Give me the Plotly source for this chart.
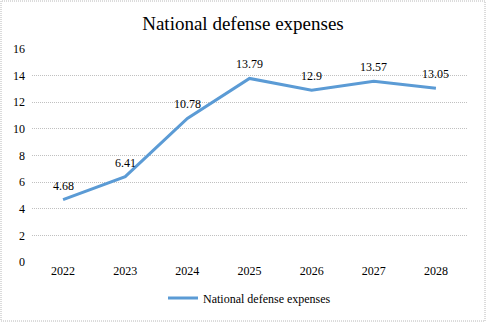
import plotly.graph_objects as go

years = ["2022", "2023", "2024", "2025", "2026", "2027", "2028"]
values = [4.68, 6.41, 10.78, 13.79, 12.9, 13.57, 13.05]
labels = ["4.68", "6.41", "10.78", "13.79", "12.9", "13.57", "13.05"]
series_name = "National defense expenses"

W, H = 486, 322
ml, mr, mt, mb = 32, 19, 49, 60

fig = go.Figure()
fig.add_trace(go.Scatter(
    x=years, y=values, mode="lines", name=series_name,
    line=dict(color="#5B9BD5", width=3),
    cliponaxis=False,
))
for i, (v, lab) in enumerate(zip(values, labels)):
    fig.add_annotation(x=i, y=v, text=lab, showarrow=False, yshift=14,
                       font=dict(family="Liberation Serif", size=12, color="#000000"))

pw = W - ml - mr
ph = H - mt - mb
fig.add_shape(type="rect", xref="paper", yref="paper",
              x0=-(ml - 1) / pw, x1=1 + (mr - 1) / pw,
              y0=-(mb - 1) / ph, y1=1 + (mt - 1) / ph,
              line=dict(color="#b8b8b8", width=1, dash="1px,1px"))

fig.update_layout(
    width=W, height=H,
    margin=dict(l=ml, r=mr, t=mt, b=mb, autoexpand=False),
    paper_bgcolor="white", plot_bgcolor="white",
    font=dict(family="Liberation Serif", size=12, color="#000000"),
    title=dict(text="National defense expenses", x=0.5, xanchor="center",
               y=1 - 23 / H, yanchor="middle",
               font=dict(family="Liberation Serif", size=19, color="#000000")),
    showlegend=True,
    legend=dict(orientation="h", x=0.5, xanchor="center",
                yref="container", y=(H - 298) / H, yanchor="middle",
                font=dict(family="Liberation Serif", size=12), itemwidth=30),
    xaxis=dict(type="category", range=[-0.5, len(years) - 0.5], showgrid=False,
               showline=False, zeroline=False, ticks="", tickfont=dict(size=12),
               automargin=False),
    yaxis=dict(range=[0, 16], dtick=2, showgrid=True, gridcolor="#c0c0c0",
               griddash="1px,1px", gridwidth=1, zeroline=False, showline=False,
               ticks="", tickfont=dict(size=12), ticklabelstandoff=6,
               automargin=False),
)

fig.write_html("out.html")
